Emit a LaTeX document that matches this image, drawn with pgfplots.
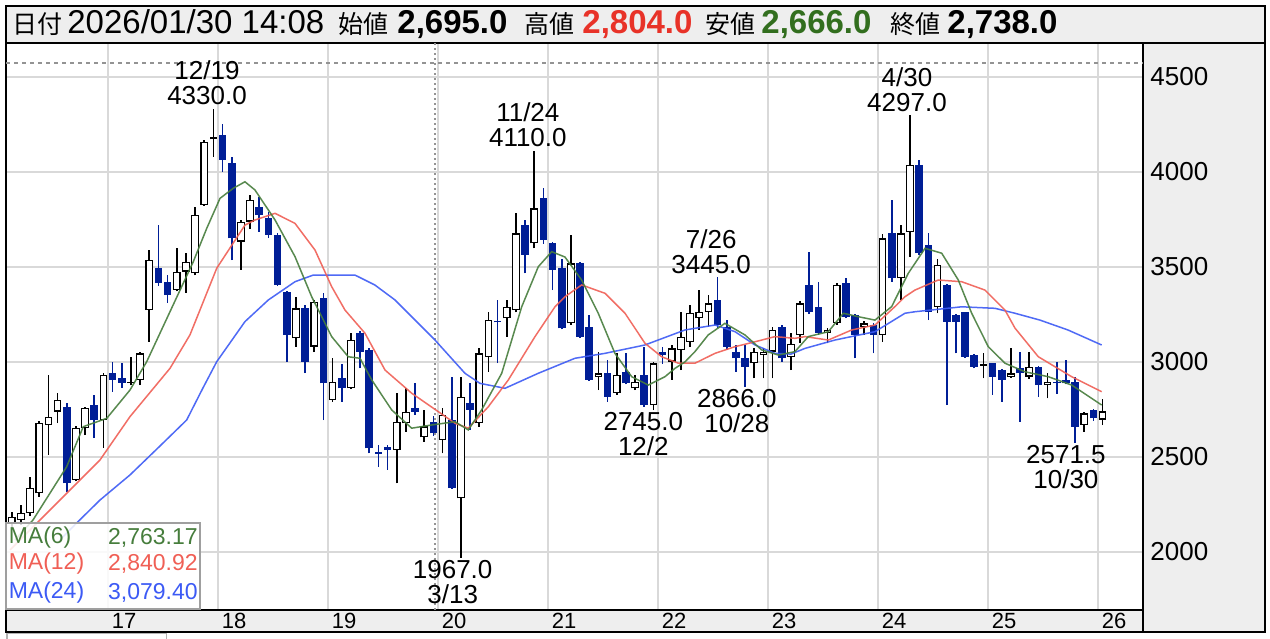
\documentclass[border=0pt]{standalone}
\usepackage{pgfplots}
\pgfplotsset{compat=1.18}
\usepackage{pgfplotstable}
\usepackage{fontspec}
\setmainfont{Liberation Sans}
\newfontfamily\jp{Noto Sans CJK JP}
\definecolor{candleblue}{RGB}{0,30,150}
\definecolor{magreen}{RGB}{70,125,60}
\definecolor{mared}{RGB}{240,95,85}
\definecolor{mablue}{RGB}{60,90,245}
\definecolor{panel}{RGB}{238,238,238}
\definecolor{hred}{RGB}{232,50,40}
\definecolor{hgreen}{RGB}{50,110,30}
\pgfdeclareplotmark{nothing}{}
\tikzset{lab/.style={align=center, inner sep=0pt, font=\fontsize{13}{12.5}\selectfont}}

% rising candles (hollow): index (Jan 2016 = 0), open, high, low, close
\pgfplotstableread{
i O H L C
1 2150 2210 2120 2185
2 2167 2246 2140 2206
3 2204 2395 2190 2337
4 2307 2688 2290 2676
5 2667 2930 2509 2711
6 2737 2835 2677 2798
8 2377 2660 2370 2650
9 2651 2760 2614 2756
11 2693 2940 2546 2930
14 2888 3026 2875 2895
15 2904 3050 2877 3044
16 3272 3588 3105 3535
19 3377 3599 3370 3474
20 3474 3572 3362 3526
21 3465 3816 3455 3772
22 3825 4165 3820 4158
23 4170 4330 4079 4182
26 3632 3745 3483 3737
27 3737 3880 3700 3850
32 3123 3342 3079 3281
34 3079 3325 3050 3316
36 2798 3018 2790 2895
38 2860 3151 2855 3114
43 2535 2834 2360 2684
44 2676 2860 2632 2737
46 2602 2746 2579 2660
48 2588 2755 2518 2720
50 2281 2921 1967 2816
52 2676 3070 2658 3044
53 3026 3263 2947 3219
55 3228 3325 3132 3289
56 3272 3781 3260 3676
58 3623 4110 3597 3807
62 3202 3667 3195 3518
65 2921 3053 2851 2939
67 2834 3044 2825 2930
69 2860 2930 2850 2895
71 2772 3000 2745 2991
73 3000 3088 2904 3070
74 3062 3263 2956 3132
75 3105 3298 3080 3255
76 3228 3377 3167 3263
77 3263 3351 3185 3307
82 2991 3070 2912 3053
83 3035 3070 2912 3053
84 3053 3184 2912 3167
86 3026 3150 2956 3093
87 3140 3320 3100 3307
90 3149 3175 3097 3167
91 3202 3415 3195 3404
94 3184 3215 3140 3202
96 3140 3670 3105 3649
98 3439 3719 3325 3676
99 3684 4297 3553 4035
102 3289 3540 3255 3509
107 2980 3044 2912 2986
110 2921 3070 2915 2939
112 2921 3053 2910 2974
114 2877 2940 2807 2895
118 2667 2735 2632 2728
120 2695 2804 2666 2738
}\upc

% falling candles (filled)
\pgfplotstableread{
i O H L C
7 2763 2780 2316 2360
10 2772 2825 2598 2693
12 2940 3000 2842 2904
13 2914 2993 2862 2888
17 3495 3720 3400 3413
18 3421 3456 3309 3351
24 4193 4249 4000 4062
25 4044 4079 3535 3649
28 3816 3868 3684 3772
29 3754 3790 3650 3667
30 3667 3680 3400 3404
31 3368 3370 3000 3140
33 3281 3300 2940 3000
35 3334 3360 2693 2886
37 2912 2990 2790 2860
39 3149 3160 2965 3053
40 3062 3070 2518 2544
41 2525 2562 2447 2515
42 2553 2562 2430 2535
45 2755 2886 2720 2737
47 2684 2715 2610 2623
49 2693 2921 2330 2334
51 2783 2886 2641 2746
54 3215 3325 2992 3207
57 3719 3745 3465 3562
59 3860 3912 3620 3641
60 3623 3630 3377 3483
61 3491 3540 3170 3176
63 3518 3525 3125 3132
64 3184 3246 2900 2904
66 2939 3009 2790 2816
68 2947 3044 2880 2886
70 2930 3079 2763 2772
72 3053 3079 2990 3035
78 3325 3445 3180 3193
79 3184 3220 3062 3079
80 3053 3088 2947 3018
81 3018 3088 2866 2974
85 3184 3193 3000 3018
88 3404 3579 3250 3263
89 3289 3421 3140 3149
92 3413 3440 3230 3237
93 3246 3250 3018 3140
95 3193 3205 3044 3140
97 3676 3851 3420 3439
100 4035 4060 3560 3570
101 3614 3675 3219 3263
103 3404 3410 2772 3211
104 3246 3250 3044 3211
105 3263 3263 3020 3026
106 3035 3040 2965 2974
108 2991 2995 2825 2921
109 2956 2960 2790 2904
111 2965 3053 2684 2939
113 2974 2980 2816 2877
115 2895 3000 2830 2886
116 2904 3009 2880 2886
117 2895 2920 2571.5 2658
119 2746 2750 2690 2702
}\downc

% MA(6)
\pgfplotstableread{
i P
1.35 2062
3.32 2167
6.99 2447
8.80 2658
11.36 2702
13.90 2851
15.72 3000
18.26 3263
20.80 3526
22.27 3702
23.72 3860
25.17 3913
26.44 3947
27.53 3904
29.72 3746
31.90 3553
33.72 3342
35.90 3132
37.71 3026
38.99 3018
40.27 2904
42.45 2746
44.63 2650
46.81 2667
49.35 2684
50.80 2641
52.26 2746
54.45 2939
56.63 3289
58.44 3500
59.90 3579
61.35 3551
63.17 3430
64.98 3255
66.80 3044
68.63 2921
70.44 2877
72.26 2921
73.35 2965
74.44 2999
75.53 3053
76.98 3141
78.80 3202
80.98 3141
82.81 3062
84.63 3035
86.44 3053
87.89 3132
90.08 3158
91.72 3255
93.35 3237
95.17 3219
96.99 3290
98.80 3465
100.63 3597
102.45 3571
104.26 3430
105.72 3255
107.53 3079
109.35 2992
111.53 2947
114.08 2921
116.63 2877
119.90 2772
}\maA

% MA(12)
\pgfplotstableread{
i P
0.81 2009
3.32 2130
6.99 2307
10.63 2483
13.90 2711
18.26 2965
20.44 3141
23.36 3492
26.44 3719
27.53 3746
29.72 3781
31.90 3728
34.08 3588
35.90 3395
37.35 3272
39.53 3150
41.72 2956
44.63 2834
47.53 2737
49.35 2676
50.80 2650
52.99 2763
55.17 2904
58.08 3132
60.26 3289
61.35 3342
63.17 3404
65.72 3360
67.90 3255
70.08 3097
71.90 3026
73.72 2992
75.53 2992
77.72 3044
79.90 3079
82.09 3105
84.26 3132
86.44 3123
87.53 3132
90.08 3114
92.63 3167
95.17 3193
97.35 3290
98.44 3342
99.53 3377
102.07 3430
104.63 3421
107.17 3377
109.35 3272
110.44 3177
112.99 3026
116.63 2921
119.90 2842
}\maB

% MA(24)
\pgfplotstableread{
i P
6.26 2062
8.08 2151
10.63 2272
13.90 2404
16.95 2546
20.08 2693
21.86 2862
23.36 3000
26.44 3211
28.99 3325
31.90 3421
33.89 3456
38.44 3456
40.60 3404
42.81 3325
47.17 3114
50.44 2939
52.08 2886
54.81 2860
58.44 2939
62.44 3018
65.72 3044
70.08 3088
74.44 3167
77.72 3193
79.90 3158
82.09 3088
84.26 3044
86.00 3040
87.53 3070
90.80 3114
95.17 3158
98.44 3255
99.53 3263
104.63 3289
108.26 3281
110.44 3255
113.17 3219
116.22 3167
119.90 3088
}\maC

\begin{document}
\begin{tikzpicture}[x=1pt,y=1pt]
\useasboundingbox (0,0) rectangle (635,319);
\fill[white] (0,0) rectangle (635,319);
% panels
\draw[line width=1pt, fill=panel] (3,297.25) rectangle (632.5,316);
\draw[line width=1pt, fill=panel] (571.5,3) rectangle (632.5,297.25);
\draw[line width=1pt, fill=panel] (3,3) rectangle (571.5,14);
\draw[gray!60, line width=0.8pt] (3.4,-2) -- (3.4,2.2) -- (83.3,2.2) -- (83.3,-2);

\begin{axis}[
  at={(3pt,14pt)}, anchor=south west,
  scale only axis, width=568.5pt, height=283.25pt,
  xmin=0.371, xmax=124.41, ymin=1693, ymax=4675,
  axis line style={line width=1pt, black},
  xtick={11.5,23.5,35.5,47.5,59.5,71.5,83.5,95.5,107.5,119.5},
  xticklabels={17,18,19,20,21,22,23,24,25,26},
  ytick={2000,2500,3000,3500,4000,4500},
  yticklabel pos=right,
  xmajorgrids, ymajorgrids,
  major grid style={line width=0.9pt, gray!30},
  major tick length=0pt,
  xticklabel style={font=\fontsize{11}{13}\selectfont, anchor=center, inner sep=0pt, yshift=-5.5pt, xshift=8pt},
  yticklabel style={font=\fontsize{13}{15}\selectfont, anchor=west, inner sep=0pt, xshift=3.5pt},
  /pgf/number format/assume math mode=true,
  /pgf/number format/1000 sep={},
  scaled y ticks=false,
]
\draw[gray!85, line width=0.6pt, dash pattern=on 2pt off 2pt] (axis cs:0.371,4572) -- (axis cs:124.41,4572);
\draw[gray!85, line width=0.6pt, dash pattern=on 1pt off 1.5pt] (axis cs:47.17,1693) -- (axis cs:47.17,4675);

% falling candles: wick low->high, body close->open
\addplot[only marks, mark=nothing, forget plot,
  error bars/.cd, y dir=plus, y explicit, error mark=none,
  error bar style={candleblue, line width=0.85pt}]
  table[x=i, y=L, y error expr=\thisrow{H}-\thisrow{L}] {\downc};
\addplot[only marks, mark=nothing, forget plot,
  error bars/.cd, y dir=plus, y explicit, error mark=none,
  error bar style={candleblue, line width=3.9pt}]
  table[x=i, y=C, y error expr=\thisrow{O}-\thisrow{C}] {\downc};

% rising candles: wick, black body, white inner
\addplot[only marks, mark=nothing, forget plot,
  error bars/.cd, y dir=plus, y explicit, error mark=none,
  error bar style={black, line width=0.85pt}]
  table[x=i, y=L, y error expr=\thisrow{H}-\thisrow{L}] {\upc};
\addplot[only marks, mark=nothing, forget plot,
  error bars/.cd, y dir=plus, y explicit, error mark=none,
  error bar style={black, line width=3.9pt}]
  table[x=i, y=O, y error expr=\thisrow{C}-\thisrow{O}] {\upc};
\addplot[only marks, mark=nothing, forget plot,
  error bars/.cd, y dir=plus, y explicit, error mark=none,
  error bar style={white, line width=2.6pt}]
  table[x=i, y expr=\thisrow{O}+6.5, y error expr={max(\thisrow{C}-\thisrow{O}-13,0)}] {\upc};

\addplot[mablue, line width=0.75pt, opacity=0.9] table[x=i, y=P] {\maC};
\addplot[mared, line width=0.75pt, opacity=0.9] table[x=i, y=P] {\maB};
\addplot[magreen, line width=0.75pt, opacity=0.9] table[x=i, y=P] {\maA};

\node[lab, anchor=south, yshift=1.75pt] at (axis cs:22.3,4330) {12/19\\4330.0};
\node[lab, anchor=south, yshift=1.75pt] at (axis cs:57.3,4110) {11/24\\4110.0};
\node[lab, anchor=south, yshift=1.75pt] at (axis cs:77.3,3445) {7/26\\3445.0};
\node[lab, anchor=south, yshift=1.75pt] at (axis cs:98.66,4297) {4/30\\4297.0};
\node[lab, anchor=north, yshift=-1pt] at (axis cs:49.1,1967) {1967.0\\3/13};
\node[lab, anchor=north, yshift=-1pt] at (axis cs:69.9,2745) {2745.0\\12/2};
\node[lab, anchor=north, yshift=-1pt] at (axis cs:80.1,2866) {2866.0\\10/28};
\node[lab, anchor=north, yshift=-1pt] at (axis cs:116.0,2571.5) {2571.5\\10/30};
\end{axis}

% legend
\fill[white, opacity=0.85] (3,14.5) rectangle (100,57.4);
\draw[gray!75, line width=1pt] (3,14.5) rectangle (100,57.4);
\begin{scope}[every node/.style={inner sep=0pt, font=\fontsize{11.5}{13}\selectfont}]
\node[anchor=west, text=magreen] at (4.2,50) {MA(6)};
\node[anchor=east, text=magreen] at (99,50) {2,763.17};
\node[anchor=west, text=mared] at (4.2,37) {MA(12)};
\node[anchor=east, text=mared] at (99,37) {2,840.92};
\node[anchor=west, text=mablue] at (4.2,22.5) {MA(24)};
\node[anchor=east, text=mablue] at (99,22.5) {3,079.40};
\end{scope}

% header
\begin{scope}[every node/.style={inner sep=0pt, anchor=base west}]
\node[font=\jp\fontsize{12.5}{14}\selectfont] at (6,302.3) {日付};
\node[font=\fontsize{16.5}{18}\selectfont] at (33.5,302.3) {2026/01/30 14:08};
\node[font=\jp\fontsize{12.5}{14}\selectfont] at (169,302.3) {始値};
\node[font=\fontsize{16.5}{18}\selectfont\bfseries] at (198.5,302.3) {2,695.0};
\node[font=\jp\fontsize{12.5}{14}\selectfont] at (262,302.3) {高値};
\node[font=\fontsize{16.5}{18}\selectfont\bfseries, text=hred] at (291,302.3) {2,804.0};
\node[font=\jp\fontsize{12.5}{14}\selectfont] at (352.5,302.3) {安値};
\node[font=\fontsize{16.5}{18}\selectfont\bfseries, text=hgreen] at (380.5,302.3) {2,666.0};
\node[font=\jp\fontsize{12.5}{14}\selectfont] at (445,302.3) {終値};
\node[font=\fontsize{16.5}{18}\selectfont\bfseries] at (473.5,302.3) {2,738.0};
\end{scope}
\end{tikzpicture}
\end{document}
